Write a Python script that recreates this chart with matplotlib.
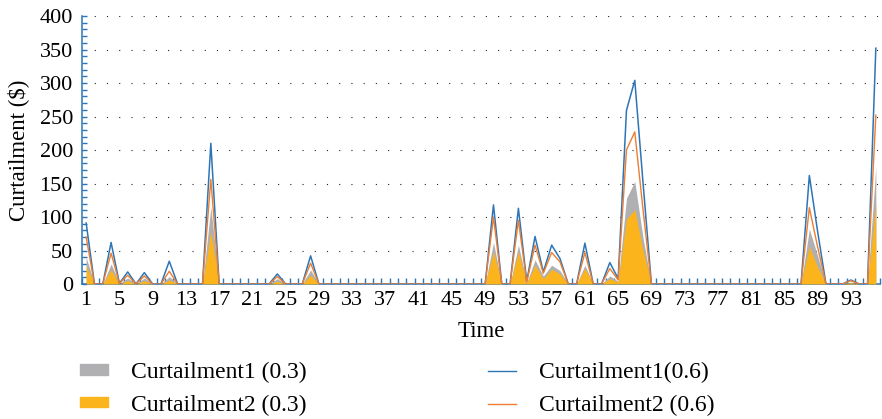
import matplotlib

matplotlib.use("Agg")
import matplotlib.pyplot as plt  # noqa: E402
from matplotlib.lines import Line2D  # noqa: E402
from matplotlib.patches import Patch  # noqa: E402
from matplotlib.ticker import FixedLocator, MultipleLocator  # noqa: E402

# 96 time slots (15 min each)
time = list(range(1, 97))

# Curtailment1 (0.3) -- grey area
curt1_03 = [
    40, 0, 0, 30, 1, 9, 0, 9, 0, 0, 11, 0, 0, 0, 0, 115,
    0, 0, 0, 0, 0, 0, 0, 8, 0, 0, 0, 21, 0, 0, 0, 0,
    0, 0, 0, 0, 0, 0, 0, 0, 0, 0, 0, 0, 0, 0, 0, 0,
    0, 62, 0, 0, 58, 2, 36, 12, 28, 20, 0, 0, 28, 0, 0, 12,
    4, 128, 153, 68, 0, 0, 0, 0, 0, 0, 0, 0, 0, 0, 0, 0,
    0, 0, 0, 0, 0, 0, 0, 82, 42, 0, 0, 0, 3, 0, 0, 175,
]
# Curtailment2 (0.3) -- yellow area
curt2_03 = [
    27, 0, 0, 21, 0, 5, 0, 5, 0, 0, 6, 0, 0, 0, 0, 78,
    0, 0, 0, 0, 0, 0, 0, 4, 0, 0, 0, 13, 0, 0, 0, 0,
    0, 0, 0, 0, 0, 0, 0, 0, 0, 0, 0, 0, 0, 0, 0, 0,
    0, 48, 0, 0, 48, 1, 28, 8, 22, 15, 0, 0, 23, 0, 0, 8,
    3, 97, 111, 50, 0, 0, 0, 0, 0, 0, 0, 0, 0, 0, 0, 0,
    0, 0, 0, 0, 0, 0, 0, 56, 25, 0, 0, 0, 2, 0, 0, 120,
]
# Curtailment1(0.6) -- blue line
curt1_06 = [
    91, 0, 0, 62, 1, 18, 0, 17, 0, 0, 34, 0, 0, 0, 0, 210,
    0, 0, 0, 0, 0, 0, 0, 15, 0, 0, 0, 42, 0, 0, 0, 0,
    0, 0, 0, 0, 0, 0, 0, 0, 0, 0, 0, 0, 0, 0, 0, 0,
    0, 118, 0, 0, 113, 4, 71, 18, 58, 38, 0, 0, 61, 0, 0, 32,
    8, 259, 304, 150, 0, 0, 0, 0, 0, 0, 0, 0, 0, 0, 0, 0,
    0, 0, 0, 0, 0, 0, 0, 162, 78, 0, 0, 0, 6, 0, 0, 352,
]
# Curtailment2 (0.6) -- orange line
curt2_06 = [
    70, 0, 0, 46, 1, 13, 0, 12, 0, 0, 19, 0, 0, 0, 0, 156,
    0, 0, 0, 0, 0, 0, 0, 11, 0, 0, 0, 31, 0, 0, 0, 0,
    0, 0, 0, 0, 0, 0, 0, 0, 0, 0, 0, 0, 0, 0, 0, 0,
    0, 100, 0, 0, 95, 3, 58, 16, 47, 33, 0, 0, 47, 0, 0, 23,
    6, 200, 227, 110, 0, 0, 0, 0, 0, 0, 0, 0, 0, 0, 0, 0,
    0, 0, 0, 0, 0, 0, 0, 114, 55, 0, 0, 0, 5, 0, 0, 252,
]

tick_labels = list(range(1, 97, 4))
y_ticks = list(range(0, 401, 50))

GREY = "#B0B0B2"
YELLOW = "#FBB41C"
BLUE = "#2E75B6"
ORANGE = "#ED7D31"

plt.rcParams["font.family"] = ["Liberation Serif", "DejaVu Serif"]

W, H = 882, 419
fig = plt.figure(figsize=(W / 100, H / 100), dpi=100)
ax = fig.add_axes([82 / W, 1 - 284 / H, 798 / W, 268 / H])

ax.fill_between(time, curt1_03, 0, color=GREY, linewidth=0, zorder=2)
ax.fill_between(time, curt2_03, 0, color=YELLOW, linewidth=0, zorder=3)
ax.plot(time, curt1_06, color=BLUE, linewidth=1.1, zorder=4)
ax.plot(time, curt2_06, color=ORANGE, linewidth=1.0, zorder=5)

# category-style axis: points sit between the boundary tick marks
ax.set_xlim(0.5, 96.5)
ax.set_ylim(0, 400)
ax.xaxis.set_major_locator(FixedLocator(tick_labels))
ax.set_xticklabels([str(t) for t in tick_labels])
ax.xaxis.set_minor_locator(MultipleLocator(1, offset=0.5))
ax.set_yticks(y_ticks)
ax.yaxis.set_minor_locator(MultipleLocator(10))

ax.tick_params(axis="x", which="major", length=0, pad=5, labelsize=16)
ax.tick_params(axis="x", which="minor", direction="in", length=4.5,
               width=1.0, color=BLUE)
ax.tick_params(axis="y", which="both", direction="in", length=3.5,
               width=1.0, color=BLUE, pad=6.5, labelsize=16)

for side in ("top", "right"):
    ax.spines[side].set_visible(False)
for side in ("left", "bottom"):
    ax.spines[side].set_color(BLUE)
    ax.spines[side].set_linewidth(1.1)

ax.grid(axis="y", color="#222222", linewidth=0.8, linestyle=(0, (1, 10)))
ax.set_axisbelow(True)

ax.set_xlabel("Time", fontsize=16.5)
ax.set_ylabel("Curtailment ($)", fontsize=16.5)
ax.xaxis.set_label_coords(0.5, -0.138)
ax.yaxis.set_label_coords(-0.066, 0.5)

leg_kw = dict(frameon=False, fontsize=17, handlelength=1.18,
              handleheight=0.3, handletextpad=1.0, labelspacing=0.48,
              borderpad=0, borderaxespad=0, loc="upper left")
fig.legend(
    [Patch(color=GREY), Patch(color=YELLOW)],
    ["Curtailment1 (0.3)", "Curtailment2 (0.3)"],
    bbox_to_anchor=(80 / W, 1 - 362 / H), **leg_kw,
)
fig.legend(
    [Line2D([], [], color=BLUE, lw=1.0), Line2D([], [], color=ORANGE, lw=1.0)],
    ["Curtailment1(0.6)", "Curtailment2 (0.6)"],
    bbox_to_anchor=(488 / W, 1 - 362 / H), **leg_kw,
)

fig.savefig("out.png", dpi=100, facecolor="white")
